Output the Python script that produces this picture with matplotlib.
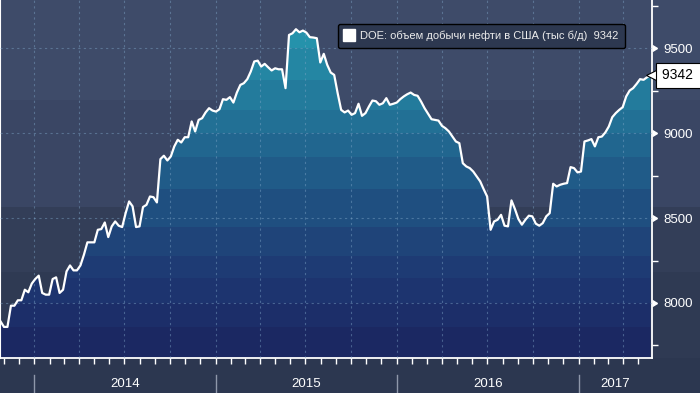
import matplotlib
matplotlib.use('Agg')
import matplotlib.pyplot as plt
import matplotlib.dates as mdates
from matplotlib.lines import Line2D
from matplotlib.ticker import MultipleLocator
import pandas as pd

plt.rcParams['font.family'] = ['Liberation Sans', 'DejaVu Sans']

# DOE weekly US crude output, thousand b/d
prod = [7892, 7859, 7859, 7984, 7984, 8016, 8016, 8078, 8063, 8114,
        8141, 8161, 8059, 8049, 8049, 8141, 8151, 8059, 8078, 8186,
        8221, 8192, 8192, 8221, 8284, 8357, 8357, 8357, 8431, 8435,
        8474, 8388, 8451, 8480, 8455, 8447, 8529, 8598, 8569, 8447,
        8451, 8565, 8578, 8627, 8623, 8592, 8847, 8867, 8839, 8863,
        8922, 8961, 8945, 8976, 8976, 9069, 9010, 9078, 9088, 9122,
        9147, 9133, 9127, 9141, 9200, 9196, 9212, 9180, 9239, 9284,
        9294, 9318, 9363, 9422, 9427, 9392, 9408, 9388, 9369, 9382,
        9376, 9376, 9265, 9578, 9588, 9612, 9594, 9604, 9592, 9565,
        9563, 9559, 9416, 9467, 9402, 9357, 9343, 9235, 9137, 9122,
        9133, 9108, 9118, 9173, 9102, 9118, 9157, 9192, 9188, 9167,
        9176, 9206, 9167, 9173, 9180, 9200, 9216, 9229, 9239, 9225,
        9220, 9186, 9147, 9114, 9082, 9078, 9074, 9043, 9029, 9010,
        8980, 8951, 8941, 8823, 8804, 8794, 8774, 8745, 8716, 8670,
        8627, 8431, 8480, 8490, 8519, 8455, 8451, 8604, 8553, 8494,
        8461, 8490, 8514, 8510, 8467, 8455, 8470, 8510, 8529, 8702,
        8686, 8696, 8702, 8706, 8800, 8794, 8769, 8774, 8951, 8957,
        8965, 8922, 8976, 8980, 9004, 9039, 9094, 9118, 9137, 9153,
        9216, 9251, 9265, 9290, 9318, 9314, 9329, 9342]
dates = pd.date_range(end='2017-05-26', periods=len(prod), freq='7D')
years = ['2014', '2015', '2016', '2017']
yticks = [8000, 8500, 9000, 9500]
last = prod[-1]
name = 'DOE: объем добычи нефти в США (тыс б/д)'

ymin, ymax = 7676, 9784

fig = plt.figure(figsize=(7, 3.93), dpi=100)

# background bands (figure pixels from bottom)
bg = fig.add_axes([0, 0, 1, 1], zorder=-5)
bg.set_xlim(0, 1)
bg.set_ylim(0, 393)
for y0, y1, c in [(0, 35, '#2c3750'), (35, 121, '#2f3a53'), (121, 186, '#333e58'),
                  (186, 293, '#3a4664'), (293, 393, '#3e4b69')]:
    bg.axhspan(y0, y1, color=c, lw=0)
bg.axis('off')

ax = fig.add_axes([0, 35 / 393, 652 / 700, 358 / 393])
ax.patch.set_alpha(0)
ax.set_xlim(dates[0] - pd.Timedelta(days=1), dates[-1] + pd.Timedelta(days=3))
ax.set_ylim(ymin, ymax)

# gradient fill: stepped bands clipped to the area under the line
poly = ax.fill_between(dates, prod, ymin, color='none', lw=0)
clip = poly.get_paths()[0]
bands = [(ymin, 7860, '#1b2862'), (7860, 8000, '#1c2e69'), (8000, 8147, '#1d346f'),
         (8147, 8276, '#1e3b74'), (8276, 8447, '#1f4479'), (8447, 8670, '#1f4f80'),
         (8670, 8860, '#205b88'), (8860, 9000, '#21668f'), (9000, 9135, '#227095'),
         (9135, 9310, '#237b9c'), (9310, 9500, '#2486a3'), (9500, ymax, '#2592ab')]
for lo, hi, c in bands:
    sp = ax.axhspan(lo, hi, color=c, lw=0, zorder=1)
    sp.set_clip_path(clip, ax.transData)

ax.plot(dates, prod, color='white', lw=1.6, zorder=4, solid_joinstyle='round')

# grid
ax.xaxis.set_major_locator(mdates.MonthLocator(bymonth=(1, 4, 7, 10)))
ax.xaxis.set_minor_locator(mdates.MonthLocator())
ax.set_yticks(yticks)
ax.yaxis.set_minor_locator(MultipleLocator(250))
ax.grid(True, which='major', color='#7fa6c8', alpha=0.45, lw=0.8,
        linestyle=(0, (2, 3)), zorder=2)
ax.set_axisbelow(False)

ax.tick_params(axis='x', which='both', direction='out', length=4, width=1,
               color='white', labelbottom=False)
ax.yaxis.tick_right()
ax.tick_params(axis='y', which='major', length=0, pad=8, labelsize=9.5,
               labelcolor='white')
ax.tick_params(axis='y', which='minor', direction='out', length=4, width=1,
               color='white')
ax.plot([1] * len(yticks), yticks, ls='none', marker=9, ms=5, color='white',
        transform=ax.get_yaxis_transform(), clip_on=False, zorder=5)

ax.spines['top'].set_visible(False)
ax.spines['right'].set_color('white')
ax.spines['right'].set_linewidth(1.3)
ax.spines['bottom'].set_color('white')
ax.spines['bottom'].set_linewidth(1.3)
ax.spines['left'].set_color('white')
ax.spines['left'].set_linewidth(0.8)

# year separators and labels
xt = ax.get_xaxis_transform()
x0, x1 = ax.get_xlim()
for yr in years:
    s = mdates.date2num(pd.Timestamp(yr + '-01-01'))
    e = min(mdates.date2num(pd.Timestamp(str(int(yr) + 1) + '-01-01')), x1)
    ax.plot([s, s], [-0.047, -0.11], transform=xt, color='#8e97aa', lw=1,
            clip_on=False)
    ax.text((s + e) / 2, -0.073, yr, transform=xt, ha='center', va='center',
            color='white', fontsize=9.5)

# legend
h = Line2D([], [], ls='none', marker='s', ms=8, color='white')
leg = ax.legend([h], [name + '  ' + str(last)], loc='upper left',
                bbox_to_anchor=(338 / 700, 1 - 24 / 393), bbox_transform=fig.transFigure,
                borderaxespad=0, handlelength=0.8, handletextpad=0.6,
                borderpad=0.6, fancybox=True, framealpha=1,
                facecolor='#2d3850', edgecolor='black', fontsize=8)
for t in leg.get_texts():
    t.set_color('#ececec')

# last value tag
ax.plot([1], [last], ls='none', marker='<', ms=8, mfc='white', mec='black', mew=0.8,
        transform=ax.get_yaxis_transform(), clip_on=False, zorder=5)
ax.annotate(str(last) + ' ', xy=(1, last), xycoords=('axes fraction', 'data'),
            xytext=(7, 0), textcoords='offset points', ha='left', va='center',
            fontsize=10, color='black', annotation_clip=False, zorder=6,
            bbox=dict(boxstyle='square,pad=0.4', fc='white', ec='black', lw=0.8))

fig.savefig('out.png', dpi=100, facecolor=fig.get_facecolor())
